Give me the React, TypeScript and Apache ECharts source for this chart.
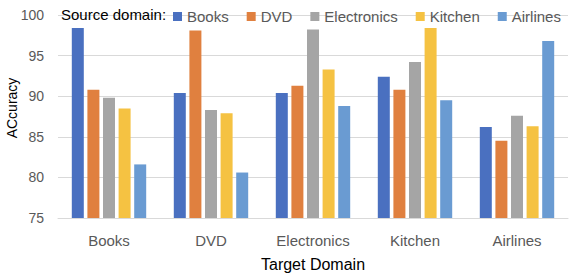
import React, { useEffect, useRef } from "react";
import * as echarts from "echarts";

const categories = ["Books", "DVD", "Electronics", "Kitchen", "Airlines"];
const sourceNames = ["Books", "DVD", "Electronics", "Kitchen", "Airlines"];
const booksValues = [98.4, 90.4, 90.4, 92.4, 86.2];
const dvdValues = [90.8, 98.1, 91.3, 90.8, 84.5];
const electronicsValues = [89.8, 88.3, 98.2, 94.2, 87.6];
const kitchenValues = [88.5, 87.9, 93.3, 98.4, 86.3];
const airlinesValues = [81.6, 80.6, 88.8, 89.5, 96.8];
const yTicks = [75, 80, 85, 90, 95, 100];

const seriesValues = [booksValues, dvdValues, electronicsValues, kitchenValues, airlinesValues];
const colors = ["#4A70C0", "#E0803F", "#A5A5A5", "#F5C242", "#6A9BD2"];

export default function App() {
  const ref = useRef<HTMLDivElement>(null);
  useEffect(() => {
    if (!ref.current) return;
    const chart = echarts.init(ref.current, null, { renderer: "svg" });
    const font = "'Liberation Sans', Arial, sans-serif";
    chart.setOption({
      animation: false,
      textStyle: { fontFamily: font },
      title: {
        text: "Source domain:",
        left: 56,
        top: 2,
        textStyle: { fontFamily: font, fontSize: 15, fontWeight: "normal", color: "#000000" },
      },
      legend: {
        left: 168,
        top: 4,
        itemWidth: 9,
        itemHeight: 9,
        itemGap: 18,
        icon: "rect",
        textStyle: { fontFamily: font, fontSize: 15, color: "#595959" },
        data: sourceNames,
      },
      graphic: [
        {
          type: "text",
          x: 12,
          y: 108,
          rotation: Math.PI / 2,
          style: {
            text: "ACcuracy",
            fontFamily: font,
            fontSize: 14,
            fill: "#000000",
            textAlign: "center",
            textVerticalAlign: "middle",
          },
        },
      ],
      grid: { left: 58, right: 6, top: 15, bottom: 59, containLabel: false, outerBoundsMode: "none" },
      xAxis: {
        type: "category",
        data: categories,
        name: "Target Domain",
        nameLocation: "middle",
        nameGap: 38,
        nameTextStyle: { fontFamily: font, fontSize: 16, color: "#000000" },
        axisLine: { show: true, lineStyle: { color: "#D9D9D9", width: 1 } },
        axisTick: { show: false },
        axisLabel: { fontFamily: font, fontSize: 15, color: "#595959", margin: 15 },
      },
      yAxis: {
        type: "value",
        min: yTicks[0],
        max: yTicks[yTicks.length - 1],
        interval: 5,
        axisLine: { show: false },
        axisTick: { show: false },
        axisLabel: { fontFamily: font, fontSize: 14, color: "#595959", margin: 14 },
        splitLine: { lineStyle: { color: "#D9D9D9", width: 1 } },
      },
      series: sourceNames.map((name, i) => ({
        name,
        type: "bar",
        data: seriesValues[i],
        barWidth: 12,
        barGap: "30%",
        itemStyle: { color: colors[i] },
      })),
    });
    return () => chart.dispose();
  }, []);
  return <div ref={ref} style={{ width: 574, height: 277, position: "absolute", left: 0, top: 0 }} />;
}
